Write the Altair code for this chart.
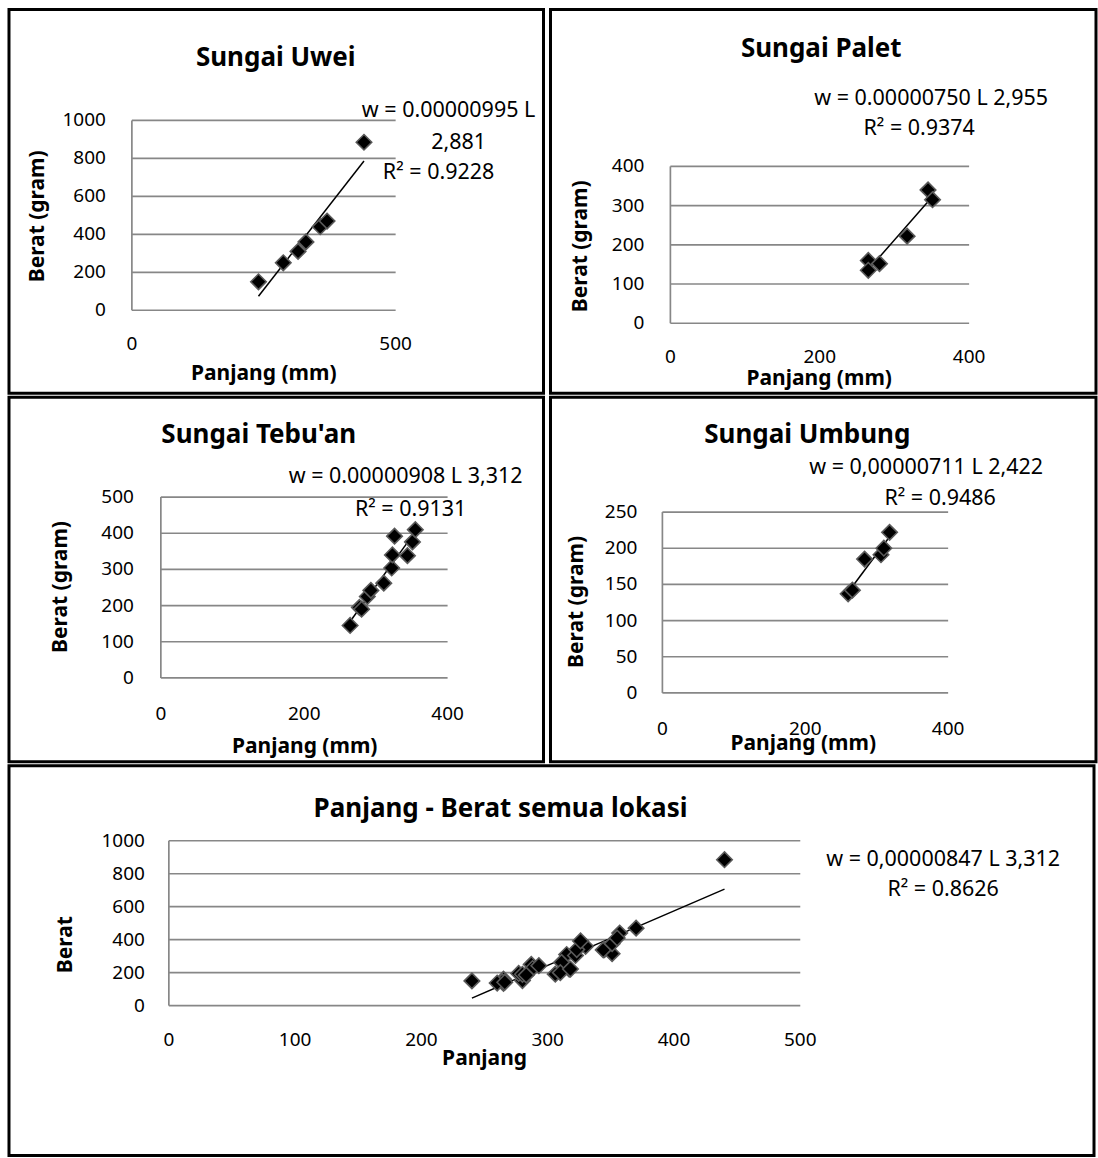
import altair as alt
import pandas as pd

FONT = "Noto Sans"
GRID = "#878787"
TICK = 19
ANN = 21.5
TITLE = 26
AXT = 21
PT_SIZE = 240

# ---------------- data ----------------
uwei_L = [240, 287, 315, 330, 357, 370, 440]
uwei_W = [150, 250, 310, 360, 440, 470, 885]

palet_L = [265, 265, 280, 317, 345, 351]
palet_W = [160, 135, 152, 222, 340, 315]

tebuan_L = [264, 277, 280, 288, 293, 311, 322, 323, 326, 344, 351, 355]
tebuan_W = [145, 195, 190, 225, 242, 262, 304, 340, 392, 338, 376, 410]

umbung_L = [260, 266, 283, 306, 310, 318]
umbung_W = [137, 142, 185, 191, 200, 222]

all_L = uwei_L + palet_L + tebuan_L + umbung_L
all_W = uwei_W + palet_W + tebuan_W + umbung_W

uwei_yticks = [0, 200, 400, 600, 800, 1000]
uwei_xticks = [0, 500]
palet_yticks = [0, 100, 200, 300, 400]
palet_xticks = [0, 200, 400]
tebuan_yticks = [0, 100, 200, 300, 400, 500]
tebuan_xticks = [0, 200, 400]
umbung_yticks = [0, 50, 100, 150, 200, 250]
umbung_xticks = [0, 200, 400]
all_yticks = [0, 200, 400, 600, 800, 1000]
all_xticks = [0, 100, 200, 300, 400, 500]


def text_layer(txt, x, y, size, bold=False, angle=0, align="center"):
    return alt.Chart(pd.DataFrame({"t": [txt]})).mark_text(
        font=FONT, fontSize=size, fontWeight="bold" if bold else "normal",
        angle=angle, align=align, baseline="middle", color="black"
    ).encode(text="t:N", x=alt.value(x), y=alt.value(y))


def panel(L, W, w, h, xdom, ydom, xr, yr, xticks, yticks, xlab_y, ylab_x,
          title, title_xy, xtitle, xtitle_xy, ytitle, ytitle_xy, annots):
    xs = alt.Scale(domain=xdom, range=xr, nice=False, zero=False)
    ys = alt.Scale(domain=ydom, range=yr, nice=False, zero=False)
    df = pd.DataFrame({"L": L, "W": W})
    gy = pd.DataFrame({"v": yticks, "lab": [str(t) for t in yticks]})
    gx = pd.DataFrame({"v": xticks, "lab": [str(t) for t in xticks]})
    origin = pd.DataFrame({"v": [xdom[0]]})

    grid = alt.Chart(gy).mark_rule(color=GRID, strokeWidth=1.7).encode(
        y=alt.Y("v:Q", scale=ys, axis=None),
        x=alt.value(xr[0]), x2=alt.value(xr[1]))
    vaxis = alt.Chart(origin).mark_rule(color=GRID, strokeWidth=1.7).encode(
        x=alt.X("v:Q", scale=xs, axis=None),
        y=alt.value(yr[0]), y2=alt.value(yr[1]))
    ylabels = alt.Chart(gy).mark_text(
        align="right", baseline="middle", font=FONT, fontSize=TICK, color="black"
    ).encode(y=alt.Y("v:Q", scale=ys, axis=None), x=alt.value(ylab_x), text="lab:N")
    xlabels = alt.Chart(gx).mark_text(
        align="center", baseline="middle", font=FONT, fontSize=TICK, color="black"
    ).encode(x=alt.X("v:Q", scale=xs, axis=None), y=alt.value(xlab_y), text="lab:N")
    line = alt.Chart(df).transform_regression("L", "W").mark_line(
        color="black", strokeWidth=1.5
    ).encode(x=alt.X("L:Q", scale=xs, axis=None), y=alt.Y("W:Q", scale=ys, axis=None))
    pts = alt.Chart(df).mark_point(
        shape="diamond", filled=True, size=PT_SIZE, fill="black",
        stroke="#5a5a5a", strokeWidth=1.6, opacity=1
    ).encode(x=alt.X("L:Q", scale=xs, axis=None), y=alt.Y("W:Q", scale=ys, axis=None))

    layers = [grid, vaxis, ylabels, xlabels, line, pts,
              text_layer(title, title_xy[0], title_xy[1], TITLE, bold=True),
              text_layer(xtitle, xtitle_xy[0], xtitle_xy[1], AXT, bold=True),
              text_layer(ytitle, ytitle_xy[0], ytitle_xy[1], AXT, bold=True, angle=270)]
    for (t, x, y) in annots:
        layers.append(text_layer(t, x, y, ANN))
    return alt.layer(*layers).properties(width=w, height=h)


p1 = panel(uwei_L, uwei_W, 535, 384, [0, 500], [0, 1000], [123, 387], [301, 111],
           uwei_xticks, uwei_yticks, 335, 97,
           "Sungai Uwei", (267, 49), "Panjang (mm)", (255, 365),
           "Berat (gram)", (29, 207),
           [("w = 0.00000995 L", 440, 102), ("2,881", 450, 134), ("R² = 0.9228", 430, 164)])

p2 = panel(palet_L, palet_W, 546, 384, [0, 400], [0, 400], [120, 419], [314, 157],
           palet_xticks, palet_yticks, 348, 94,
           "Sungai Palet", (271, 40), "Panjang (mm)", (269, 370),
           "Berat (gram)", (31, 237),
           [("w = 0.00000750 L 2,955", 381, 90), ("R² = 0.9374", 369, 120)])

p3 = panel(tebuan_L, tebuan_W, 535, 365, [0, 400], [0, 500], [152, 439], [281, 100],
           tebuan_xticks, tebuan_yticks, 317, 125,
           "Sungai Tebu'an", (250, 38), "Panjang (mm)", (296, 350),
           "Berat (gram)", (52, 190),
           [("w = 0.00000908 L 3,312", 397, 80), ("R² = 0.9131", 402, 113)])

p4 = panel(umbung_L, umbung_W, 546, 365, [0, 400], [0, 250], [112, 398], [296, 115],
           umbung_xticks, umbung_yticks, 332, 87,
           "Sungai Umbung", (257, 38), "Panjang (mm)", (253, 347),
           "Berat (gram)", (27, 205),
           [("w = 0,00000711 L 2,422", 376, 71), ("R² = 0.9486", 390, 102)])

p5 = panel(all_L, all_W, 1086, 390, [0, 500], [0, 1000], [160, 792], [240, 75],
           all_xticks, all_yticks, 274, 136,
           "Panjang - Berat semua lokasi", (492, 43), "Panjang", (476, 293),
           "Berat", (57, 179),
           [("w = 0,00000847 L 3,312", 935, 94), ("R² = 0.8626", 935, 124)])

row1 = alt.hconcat(p1, p2, spacing=3)
row2 = alt.hconcat(p3, p4, spacing=3)

chart = alt.vconcat(row1, row2, p5, spacing=0).properties(
    padding={"left": 7, "top": 7, "right": 0, "bottom": 0},
    background="white",
).configure_view(stroke="black", strokeWidth=3)

chart.save("out.html", embed_options={"renderer": "svg", "actions": False})
